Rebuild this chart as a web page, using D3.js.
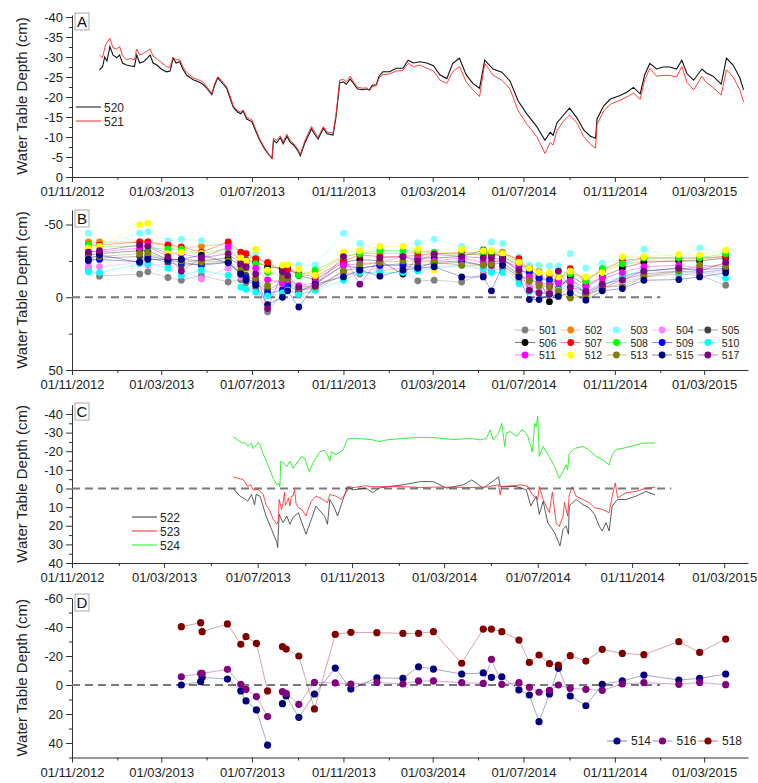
<!DOCTYPE html>
<meta charset="utf-8">
<html>
<script src="https://d3js.org/d3.v7.min.js"></script>
<style>
  body { margin: 0; background: #fff; }
  text { font-family: Arial, "Liberation Sans", sans-serif; }
</style>
<body>
<div id="chart"></div>
<script>
// ---------- tick labels ----------
const xTicks = ["2012-11-01","2013-03-01","2013-07-01","2013-11-01","2014-03-01","2014-07-01","2014-11-01","2015-03-01"];
const xMinor = ["2013-01-01","2013-05-01","2013-09-01","2014-01-01","2014-05-01","2014-09-01","2015-01-01"];

// ---------- panel A : 520, 521 ----------
const a520 = [
 ["2012-12-08",-26.8],["2012-12-12",-27.5],["2012-12-15",-30],["2012-12-18",-29],["2012-12-22",-32.6],["2012-12-26",-30.5],
 ["2012-12-31",-29.8],["2013-01-04",-30.5],["2013-01-08",-28.5],["2013-01-13",-28],["2013-01-18",-27.8],["2013-01-24",-27.6],
 ["2013-01-27",-30.5],["2013-01-31",-28.5],["2013-02-05",-28.8],["2013-02-09",-29.5],["2013-02-14",-30.5],["2013-02-18",-28.5],
 ["2013-02-23",-28],["2013-03-01",-27],["2013-03-08",-26.3],["2013-03-13",-26.5],["2013-03-17",-29.7],["2013-03-21",-28.5],
 ["2013-03-26",-28.8],["2013-03-30",-27],["2013-04-04",-25.5],["2013-04-13",-24.3],["2013-04-20",-23.8],["2013-04-26",-23.2],
 ["2013-05-02",-22],["2013-05-08",-20.6],["2013-05-12",-23],["2013-05-16",-24.8],["2013-05-22",-23.5],["2013-05-28",-22.2],
 ["2013-06-02",-19.5],["2013-06-06",-17.4],["2013-06-12",-16.2],["2013-06-16",-15.8],["2013-06-19",-16.5],["2013-06-24",-14.5],
 ["2013-07-01",-13.8],["2013-07-06",-11.5],["2013-07-12",-9],["2013-07-18",-7],["2013-07-24",-5.5],["2013-07-28",-4.7],
 ["2013-07-30",-9.2],["2013-08-03",-8.5],["2013-08-08",-9.8],["2013-08-12",-8.3],["2013-08-17",-10.2],["2013-08-21",-8.8],
 ["2013-08-26",-8],["2013-09-01",-6.5],["2013-09-04",-5.3],["2013-09-10",-8.5],["2013-09-19",-12],["2013-09-24",-10.5],
 ["2013-09-28",-9.5],["2013-10-05",-12.2],["2013-10-10",-10.8],["2013-10-18",-10.5],["2013-10-22",-15],["2013-10-27",-23.5],
 ["2013-11-01",-23.8],["2013-11-05",-23.2],["2013-11-10",-24.5],["2013-11-14",-23.5],["2013-11-20",-22],["2013-11-27",-21.8],
 ["2013-12-02",-22],["2013-12-06",-21.8],["2013-12-10",-23],["2013-12-15",-23],["2013-12-19",-25.2],["2013-12-24",-26.3],
 ["2014-01-02",-26.3],["2014-01-11",-27.2],["2014-01-20",-27.2],["2014-01-27",-29.2],["2014-02-03",-28.5],["2014-02-12",-28.8],
 ["2014-02-21",-28.5],["2014-03-02",-27.8],["2014-03-11",-25.5],["2014-03-20",-24.6],["2014-03-28",-28.4],["2014-04-06",-29.7],
 ["2014-04-15",-25.6],["2014-04-24",-23.4],["2014-05-03",-22.2],["2014-05-10",-29.2],["2014-05-21",-27],["2014-06-02",-26.2],
 ["2014-06-13",-24],["2014-06-24",-19],["2014-07-05",-15.9],["2014-07-19",-12.6],["2014-07-30",-9.2],["2014-08-06",-11.2],
 ["2014-08-10",-10.4],["2014-08-15",-13.5],["2014-08-24",-15.5],["2014-09-01",-17.2],["2014-09-11",-14.8],["2014-09-20",-11.8],
 ["2014-09-29",-10.2],["2014-10-06",-9.7],["2014-10-08",-14.5],["2014-10-17",-17.8],["2014-10-26",-19.5],["2014-11-08",-20.4],
 ["2014-11-17",-21.2],["2014-11-26",-22.4],["2014-12-05",-20.8],["2014-12-11",-25.5],["2014-12-18",-28.4],["2014-12-27",-27],
 ["2015-01-05",-27.5],["2015-01-14",-27.5],["2015-01-23",-27],["2015-01-30",-29.2],["2015-02-06",-25.8],["2015-02-15",-24.2],
 ["2015-02-26",-27],["2015-03-04",-26],["2015-03-13",-25.2],["2015-03-24",-23.2],["2015-03-31",-29.7],["2015-04-09",-28],
 ["2015-04-18",-24.8],["2015-04-23",-21.8]
];
const a521 = [
 ["2012-12-08",-30.5],["2012-12-12",-29.8],["2012-12-16",-33],["2012-12-22",-34.7],["2012-12-26",-32.3],["2012-12-31",-32],
 ["2013-01-04",-32.6],["2013-01-08",-30.3],["2013-01-13",-29.3],["2013-01-18",-29.6],["2013-01-24",-29.3],["2013-01-27",-32],
 ["2013-01-31",-30.5],["2013-02-05",-30.9],["2013-02-09",-31.4],["2013-02-14",-32],["2013-02-18",-30.2],["2013-02-23",-29.6],
 ["2013-03-01",-28.6],["2013-03-08",-27.6],["2013-03-13",-27.4],["2013-03-17",-30],["2013-03-21",-29.3],["2013-03-26",-29.3],
 ["2013-03-30",-27.6],["2013-04-04",-26.2],["2013-04-13",-24.8],["2013-04-20",-24.3],["2013-04-26",-23.8],["2013-05-02",-22.4],
 ["2013-05-08",-20.9],["2013-05-12",-23.4],["2013-05-16",-25.1],["2013-05-22",-24],["2013-05-28",-22.6],["2013-06-02",-20],
 ["2013-06-06",-17.7],["2013-06-12",-16.6],["2013-06-16",-16.2],["2013-06-19",-16.8],["2013-06-24",-14.9],["2013-07-01",-14.3],
 ["2013-07-06",-11.9],["2013-07-12",-9.3],["2013-07-18",-7.3],["2013-07-24",-5.6],["2013-07-28",-4.5],["2013-07-30",-9.7],
 ["2013-08-03",-9.2],["2013-08-08",-10.3],["2013-08-12",-8.8],["2013-08-17",-10.7],["2013-08-21",-9.3],["2013-08-26",-8.4],
 ["2013-09-01",-6.9],["2013-09-04",-5.6],["2013-09-10",-9],["2013-09-19",-12.7],["2013-09-24",-11],["2013-09-28",-10],
 ["2013-10-05",-12.6],["2013-10-10",-11.2],["2013-10-18",-11],["2013-10-22",-15.6],["2013-10-27",-24.2],["2013-11-01",-24.4],
 ["2013-11-05",-23.8],["2013-11-10",-25.2],["2013-11-14",-24],["2013-11-20",-22.4],["2013-11-27",-22.2],["2013-12-02",-22.3],
 ["2013-12-06",-21.6],["2013-12-10",-22.6],["2013-12-15",-22.8],["2013-12-19",-24.8],["2013-12-24",-25.6],["2014-01-02",-25.8],
 ["2014-01-11",-26.5],["2014-01-20",-26.6],["2014-01-27",-28.4],["2014-02-03",-27.6],["2014-02-12",-28],["2014-02-21",-27.2],
 ["2014-03-02",-26.5],["2014-03-11",-24.2],["2014-03-20",-23.4],["2014-03-28",-26.4],["2014-04-06",-27.6],["2014-04-15",-23.8],
 ["2014-04-24",-21.8],["2014-05-03",-20.1],["2014-05-10",-28.4],["2014-05-21",-25.5],["2014-06-02",-24.2],["2014-06-13",-22],
 ["2014-06-24",-16.5],["2014-07-05",-13.4],["2014-07-19",-10.1],["2014-07-30",-5.9],["2014-08-06",-8.6],["2014-08-10",-8],
 ["2014-08-15",-11.6],["2014-08-24",-14],["2014-09-01",-15.5],["2014-09-11",-13.5],["2014-09-20",-10.1],["2014-09-29",-8.2],
 ["2014-10-06",-7.2],["2014-10-08",-13.2],["2014-10-17",-16.5],["2014-10-26",-18.2],["2014-11-08",-19.2],["2014-11-17",-20],
 ["2014-11-26",-21],["2014-12-05",-19.4],["2014-12-11",-24.2],["2014-12-18",-27.2],["2014-12-27",-25.2],["2015-01-05",-25.4],
 ["2015-01-14",-25.4],["2015-01-23",-25],["2015-01-30",-27.6],["2015-02-06",-23.6],["2015-02-15",-21.8],["2015-02-26",-25.2],
 ["2015-03-04",-23.6],["2015-03-13",-22.4],["2015-03-24",-20.5],["2015-03-31",-26.8],["2015-04-09",-25],["2015-04-18",-21.8],
 ["2015-04-23",-18.8]
];

// ---------- panel B : manual wells ----------
const bDates = ["2012-11-23","2012-12-08","2013-01-31","2013-02-11","2013-03-10","2013-03-28","2013-04-24","2013-05-30",
 "2013-06-16","2013-06-23","2013-07-06","2013-07-22","2013-08-11","2013-08-18","2013-09-02","2013-09-24","2013-11-01",
 "2013-11-23","2013-12-20","2014-01-20","2014-02-09","2014-03-03","2014-04-09","2014-05-08","2014-05-19","2014-06-03",
 "2014-06-25","2014-07-09","2014-07-22","2014-08-05","2014-08-17","2014-09-02","2014-09-23","2014-10-15","2014-11-11",
 "2014-12-10","2015-01-26","2015-02-23","2015-03-30"];
const w501 = [-20,-14.5,-16,-17.5,-13.6,-11.7,-15,-10.5,-12,-10,-6,10,-3,-5,-2,-5,-16,-16,-18,-20,-11.3,-11.7,-10.5,-16,-18,-20,-12,-6,-3,-4,-2,-6,-1,-6,-9,-14,-16,-15,-8.3];
const w502 = [-38,-38,-38,-38,-35,-34,-35,-37,-29,-28,-27,-23,-18,-20,-17,-16,-28,-30,-30,-30,-31,-30,-31,-30,-30,-31,-25,-20,-18,-15,-13,-17,-13,-18,-22,-25,-25,-26,-28];
const w503 = [-44,-36,-44,-45,-39,-40,-39,-35,-28,-27,-30,-20,-20,-20,-22,-22,-44,-37,-33,-30,-37.5,-40,-35,-33,-38,-37,-28,-22,-22,-21.5,-21.5,-30,-20,-23.5,-26,-33,-27,-34,-30];
const w504 = [-21,-21,-24,-22,-23,-19,-12.6,-20,-14,-12,-10,-4,-8,-9,-5,-7,-16,-18,-20,-20,-19,-21,-22,-19,-20,-22,-13,-8,-6,-5,-4,-8,0,-5,-10,-15,-17,-16,-18];
const w505 = [-25,-27,-28,-27,-24,-22,-23,-24,-17,-15,-12,-5,-10,-11,-5,-6,-18,-20,-22,-23,-22,-23,-24,-22,-22,-24,-15,-12,-10,-9,-6,-14,-2,-6,-12,-16,-18,-17,-19];
const w506 = [-29,-30,-32,-32,-26,-26,-25,-27,-22,-25.5,-24.3,-21,-20,-20,-15,-12,-24,-26,-25,-16,-27,-27,-28,-32.4,-30,-28,-22,-20,-13,3,-5,-15,-8,-14,-20,-24,-25,-25,-27];
const w507 = [-36,-36,-38,-38,-36,-34.7,-31,-38,-31,-30,-26.6,-24,-18,-19,-16,-14,-25,-29,-28,-28,-29,-30,-30,-29,-29,-30,-26.6,-18,-15,-12,-12,-19.6,-11,-19,-25,-27,-27,-27,-28];
const w508 = [-36,-35,-35,-34,-33,-33,-30,-33,-25,-24,-23,-17,-15,-14,-15,-18.6,-28,-30,-32,-32,-32,-31,-29,-30,-31,-30,-24,-16,-12,-11.7,-18,-16,-11,-19.6,-23,-27,-27,-27,-30];
const w509 = [-25.5,-26,-24.4,-28.5,-25.5,-24,-22,-24,-16,-13,-10,-2.5,-5,-8,-4,-9,-22,-20,-22,-22,-20,-24,-25,-22,-24,-26,-18,-17,-13,-12,-10,-10,-3,-8,-14,-18,-20,-19,-20];
const w510 = [-17.5,-17,-23,-23,-20,-15,-18.6,-15,-7,-5.5,-3.5,-1,-3,-5,-2,-4.8,-11.7,-17,-17,-17,-18,-20,-22,-20,-17,-17,-9.4,-4,-3,-2,-5,-9,-5,-10,-14,-19,-17,-18,-13];
const w511 = [-32,-31,-34,-36,-30,-30,-27,-34.7,-24,-22,-20,-12,-10,-12,-8,-10,-22,-23,-24,-28,-26,-25,-27,-24,-24,-25,-21,-14,-9,-8,-10,-11,-7,-13,-17,-21,-22,-20,-23];
const w512 = [-34,-35,-50,-51,-30,-31,-30,-30,-27,-25,-33,-18.6,-22,-22.5,-19.5,-15,-31,-32,-35,-35,-33,-18.6,-33,-32,-32,-30,-24,-20,-17,-17,-14,-18,-14,-17,-27.8,-28,-29.4,-29,-32.4];
const w513 = [-28,-28,-30,-30,-26,-25,-24,-25,-18.6,-20,-13,-8,-13,-13,-6,-7,-18,-22,-24,-25,-25,-24,-22,-22,-23,-24,-16,-11,-8,-7,-4,0.5,-1,-8,-7,-14,-18,-22,-21];
const w515 = [-26,-29,-24,-26,-26,-26,-29,-23.7,-16,-11.7,-8.3,5,0,-4.4,6.7,-9,-14,-18.6,-14.5,-18.6,-20,-21,-14,-14,-4.4,-22,-14,1.6,1.6,-2,-0.6,-3,2,-4.4,-6,-11.7,-12.2,-14,-16.8];
const w517 = [-31,-32,-36,-35,-28,-18,-27,-30,-23,-21,-16,7.8,-17.5,-15,-7,-8,-28,-9,-27,-28,-25,-29.6,-28,-27,-27,-26,-19,-4.8,-3,-2.5,-18,-7,-4,-9,-12,-18,-20,-18,-24];
const bNames = ["501","502","503","504","505","506","507","508","509","510","511","512","513","515","517"];
const bValues = [w501,w502,w503,w504,w505,w506,w507,w508,w509,w510,w511,w512,w513,w515,w517];
const bColors = ["#808080","#ff8000","#80ffff","#ff80ff","#404040","#000000","#ff0000","#00ff00","#0000ff","#00ffff","#ff00ff","#ffff00","#808000","#000080","#800080"];

// ---------- panel C : 522, 523, 524 ----------
const c522 = [
 ["2013-05-30",0],["2013-06-08",4.1],["2013-06-14",5.5],["2013-06-18",6.8],["2013-06-23",3.2],["2013-06-27",8.7],["2013-06-29",3.2],
 ["2013-07-04",4.1],["2013-07-12",14.8],["2013-07-19",21.9],["2013-07-26",29],["2013-07-27",31.7],["2013-07-29",13.9],["2013-08-03",18.3],
 ["2013-08-08",14.8],["2013-08-12",19.2],["2013-08-16",15.6],["2013-08-23",13],["2013-09-02",24.5],["2013-09-09",16.5],["2013-09-15",9.4],
 ["2013-09-26",14.8],["2013-09-30",19.2],["2013-10-03",5.9],["2013-10-09",10.3],["2013-10-13",14.8],["2013-10-18",8.7],["2013-10-26",-1.1],
 ["2013-11-02",0.7],["2013-11-19",-0.2],["2013-11-28",2.3],["2013-12-06",-0.2],["2013-12-19",-1.1],["2014-01-07",-2],["2014-01-29",-3.7],
 ["2014-02-15",-3.7],["2014-03-04",-0.2],["2014-03-26",-2],["2014-04-06",-4.6],["2014-04-21",-0.2],["2014-05-11",-6.2],["2014-05-13",-1.1],
 ["2014-06-03",-1.1],["2014-06-16",0.7],["2014-06-22",9.4],["2014-06-29",4.1],["2014-07-03",13.9],["2014-07-08",6.8],["2014-07-14",18.3],
 ["2014-07-23",23.7],["2014-07-30",30.8],["2014-08-03",21.9],["2014-08-07",20.1],["2014-08-10",24.5],["2014-08-11",9.4],["2014-08-20",5.9],
 ["2014-08-29",8.7],["2014-09-06",10.3],["2014-09-13",13.9],["2014-09-19",20.1],["2014-09-23",22.8],["2014-09-28",18.3],["2014-10-02",22.8],
 ["2014-10-06",9.4],["2014-10-13",5.9],["2014-10-24",5.9],["2014-11-06",4.1],["2014-11-19",1.6],["2014-12-01",3.4]
];
const c523 = [
 ["2013-05-30",-6.2],["2013-06-05",-5.5],["2013-06-12",-4.8],["2013-06-18",-1.1],["2013-06-22",-2],["2013-06-25",0.7],["2013-07-02",0.5],
 ["2013-07-04",1.6],["2013-07-08",3],["2013-07-12",8.7],["2013-07-17",12],["2013-07-21",16.5],["2013-07-26",19.2],["2013-07-28",17],
 ["2013-07-29",5.9],["2013-08-01",11.2],["2013-08-03",8],["2013-08-05",2],["2013-08-06",9],["2013-08-08",7.6],["2013-08-10",5],
 ["2013-08-12",9.4],["2013-08-14",4],["2013-08-16",4.1],["2013-08-18",0.5],["2013-08-20",8],["2013-08-23",10.3],["2013-08-27",11],
 ["2013-09-02",14.8],["2013-09-04",12],["2013-09-09",6.8],["2013-09-15",4.1],["2013-09-20",5],["2013-09-24",5.9],["2013-09-30",7.6],
 ["2013-10-03",3.2],["2013-10-11",4.1],["2013-10-18",5.9],["2013-10-24",2.3],["2013-10-29",-1.1],["2013-11-02",-0.5],["2013-11-19",-1.5],
 ["2013-11-28",-1],["2013-12-16",-1],["2014-01-07",-1],["2014-01-29",-0.5],["2014-02-19",-0.8],["2014-03-13",-0.7],["2014-04-04",-0.5],
 ["2014-04-25",-0.8],["2014-05-11",-2],["2014-05-13",3.5],["2014-05-15",-1],["2014-06-10",-2],["2014-06-18",-1.1],["2014-06-24",3.4],
 ["2014-07-01",5.9],["2014-07-03",-1],["2014-07-08",5.9],["2014-07-16",13],["2014-07-20",2],["2014-07-25",18.5],["2014-07-29",20.3],
 ["2014-08-03",14.8],["2014-08-05",7.6],["2014-08-09",14.8],["2014-08-11",3.4],["2014-08-15",-1],["2014-08-20",4.1],["2014-08-29",5.9],
 ["2014-09-06",7.6],["2014-09-13",10.3],["2014-09-23",11.2],["2014-10-02",13],["2014-10-06",4.1],["2014-10-10",-3],["2014-10-13",5],
 ["2014-10-24",2.3],["2014-11-06",1.6],["2014-11-19",-0.2],["2014-12-01",-0.7]
];
const c524 = [
 ["2013-05-30",-27.9],["2013-06-08",-25.2],["2013-06-12",-24.4],["2013-06-14",-24.8],["2013-06-18",-22.6],["2013-06-23",-24.4],
 ["2013-06-25",-21.5],["2013-06-27",-22.3],["2013-07-02",-24.8],["2013-07-04",-23.5],["2013-07-08",-18.8],["2013-07-12",-15],
 ["2013-07-17",-10],["2013-07-21",-5.5],["2013-07-26",-1.9],["2013-07-29",-2.8],["2013-07-30",-1.1],["2013-07-31",-14.6],
 ["2013-08-03",-13.7],["2013-08-08",-11.8],["2013-08-12",-14.6],["2013-08-16",-10.9],["2013-08-21",-13.7],["2013-08-27",-17.2],
 ["2013-08-31",-16.4],["2013-09-06",-9.1],["2013-09-11",-13.7],["2013-09-20",-19.7],["2013-09-26",-20.6],["2013-09-30",-18.1],
 ["2013-10-03",-14.6],["2013-10-05",-19.7],["2013-10-11",-18.1],["2013-10-20",-20.6],["2013-10-26",-26.5],["2013-11-02",-27],
 ["2013-11-19",-26.5],["2013-11-28",-26.1],["2013-12-06",-25.2],["2013-12-16",-26.1],["2014-01-07",-26.9],["2014-01-29",-27.5],
 ["2014-02-19",-27.2],["2014-03-13",-26.3],["2014-04-04",-26.9],["2014-04-17",-26.1],["2014-04-25",-26.9],["2014-04-30",-31.5],
 ["2014-05-04",-26.1],["2014-05-11",-29.7],["2014-05-15",-35],["2014-05-19",-22.6],["2014-05-21",-29.7],["2014-05-26",-30.6],
 ["2014-06-04",-28],["2014-06-10",-31.5],["2014-06-14",-30.6],["2014-06-18",-28],["2014-06-24",-19.7],["2014-06-27",-35],
 ["2014-06-29",-33.2],["2014-07-01",-38.9],["2014-07-03",-17.2],["2014-07-08",-22.6],["2014-07-16",-17.2],["2014-07-23",-11.8],
 ["2014-07-29",-5.5],["2014-08-03",-9.1],["2014-08-07",-12.7],["2014-08-09",-10],["2014-08-11",-18.8],["2014-08-18",-21.5],
 ["2014-08-29",-22.6],["2014-09-06",-20.6],["2014-09-15",-17.2],["2014-09-23",-15.5],["2014-10-02",-12.7],["2014-10-06",-18.1],
 ["2014-10-11",-21],["2014-10-19",-21.5],["2014-11-02",-22.9],["2014-11-15",-24.4],["2014-12-01",-24.4]
];

// ---------- panel D : 514, 516, 518 ----------
const dDates = ["2013-03-28","2013-04-23","2013-04-25","2013-05-29","2013-06-16","2013-06-23","2013-07-07","2013-07-22",
 "2013-08-11","2013-08-16","2013-09-02","2013-09-23","2013-10-21","2013-11-11","2013-12-16","2014-01-20","2014-02-10",
 "2014-03-02","2014-04-09","2014-05-08","2014-05-19","2014-06-02","2014-06-25","2014-07-09","2014-07-22","2014-08-05",
 "2014-08-17","2014-09-02","2014-09-23","2014-10-15","2014-11-11","2014-12-10","2015-01-26","2015-02-23","2015-03-30"];
const d514 = [0,-2.3,-5.3,-4.1,4.1,11,17.2,41.4,12.9,7.6,22.3,6.2,-11.7,2.8,-5,-4.6,-12.6,-11,-7.6,-8.3,-5.3,-5.7,3.4,6.9,25.3,6.2,-11.5,7.6,14.3,-0.5,-2.8,-6.9,-3.4,-4.6,-7.6];
const d516 = [-5.7,-8,-8,-10.8,-0.5,3,8,21.8,4.6,5.7,13.3,-1.8,-1.4,-0.7,-1.8,-0.7,-2.8,-2.8,-1.6,-1.1,-17.7,-0.5,-1.6,1.6,5,3.7,0,2.3,3,3.7,-0.7,-1.6,-0.5,-1.8,-0.2];
const d518 = [-40.2,-43,-36.8,-42.1,-28.1,-33.3,-28.7,4.1,-26.4,-24.8,-20,16.5,-34.9,-36.3,-36.1,-35.6,-35.6,-36.8,-15,-38.6,-38.6,-36.8,-31,-15.6,-20.7,-14.7,-13.8,-20.2,-16.5,-24.6,-21.8,-20.9,-29.9,-22.5,-31.7];
const dBreakAfter = "2013-07-22"; // no line drawn across the August 2013 gap
const dNames = ["514","516","518"];
const dValues = [d514, d516, d518];
const dColors = ["#000080","#800080","#800000"];

// ---------- drawing ----------
const W = 758, H = 783;
const left = 72, right = 748;
const parse = d3.timeParse("%Y-%m-%d");
const fmt = d3.timeFormat("%d/%m/%Y");

const svg = d3.select("#chart").append("svg").attr("width", W).attr("height", H);

function frame(x, y, bottom, yTicks, yMinor, label, boxY) {
  const g = svg.append("g");
  g.append("g").attr("transform", `translate(${left},0)`)
    .call(d3.axisLeft(y).tickValues(yTicks).tickSize(6).tickSizeOuter(0).tickPadding(3).tickFormat(d => String(d)))
    .call(s => s.selectAll("text").attr("font-size", 13).attr("fill", "#222"));
  g.append("g").attr("transform", `translate(${left},0)`)
    .call(d3.axisLeft(y).tickValues(yMinor).tickSize(3).tickFormat(""))
    .call(s => s.select(".domain").remove());
  g.append("g").attr("transform", `translate(0,${bottom})`)
    .call(d3.axisBottom(x).tickValues(xTicks.map(parse)).tickFormat(fmt).tickSize(5).tickSizeOuter(0).tickPadding(5))
    .call(s => s.selectAll("text").attr("font-size", 13).attr("fill", "#222"));
  g.append("g").attr("transform", `translate(0,${bottom})`)
    .call(d3.axisBottom(x).tickValues(xMinor.map(parse)).tickSize(3).tickFormat(""))
    .call(s => s.select(".domain").remove());
  g.selectAll("path.domain, .tick line").attr("stroke", "#333");
  g.selectAll("text").attr("font-family", "Arial, 'Liberation Sans', sans-serif");

  const yr = y.range();
  const mid = (yr[0] + yr[1]) / 2;
  g.append("text").attr("transform", `translate(21,${mid}) rotate(-90)`)
    .attr("text-anchor", "middle").attr("dominant-baseline", "central")
    .attr("font-size", 15).attr("fill", "#222").text("Water Table Depth (cm)");

  g.append("rect").attr("x", 75).attr("y", boxY).attr("width", 14).attr("height", 17)
    .attr("fill", "#fff").attr("stroke", "#aaa").attr("stroke-width", 1);
  g.append("text").attr("x", 82).attr("y", boxY + 14).attr("text-anchor", "middle")
    .attr("font-size", 15).attr("fill", "#111").text(label);
  return g;
}

function zeroLine(x, y, endDate) {
  svg.append("line").attr("x1", left).attr("x2", x(parse(endDate)))
    .attr("y1", y(0)).attr("y2", y(0))
    .attr("stroke", "#7a7a7a").attr("stroke-width", 2).attr("stroke-dasharray", "8,5");
}

function lineLegend(items, x0, y0, dy) {
  items.forEach((it, i) => {
    const yy = y0 + i * dy;
    svg.append("line").attr("x1", x0).attr("x2", x0 + 25).attr("y1", yy).attr("y2", yy)
      .attr("stroke", it.color).attr("stroke-width", 1);
    svg.append("text").attr("x", x0 + 28).attr("y", yy + 4.5).attr("font-size", 12).attr("fill", "#222").text(it.name);
  });
}

function symLegend(x0, y0, name, color, r, fs) {
  svg.append("line").attr("x1", x0 - 10).attr("x2", x0 + 10).attr("y1", y0).attr("y2", y0)
    .attr("stroke", color).attr("stroke-opacity", 0.5).attr("stroke-width", 1);
  svg.append("circle").attr("cx", x0).attr("cy", y0).attr("r", r).attr("fill", color);
  svg.append("text").attr("x", x0 + 14).attr("y", y0 + 4).attr("font-size", fs).attr("fill", "#222").text(name);
}

// ----- Panel A -----
const xA = d3.scaleTime().domain([parse("2012-11-01"), parse("2015-04-29")]).range([left, right]);
const yA = d3.scaleLinear().domain([0, -40.5]).range([177, 15]);
frame(xA, yA, 177, d3.range(-40, 1, 5), d3.range(-37.5, 0, 5), "A", 13);
const lineA = d3.line().x(d => xA(parse(d[0]))).y(d => yA(d[1]));
svg.append("path").datum(a520).attr("d", lineA).attr("fill", "none").attr("stroke", "#111").attr("stroke-width", 1.1);
svg.append("path").datum(a521).attr("d", lineA).attr("fill", "none").attr("stroke", "#ff2a2a").attr("stroke-width", 0.9);
lineLegend([{name: "520", color: "#111"}, {name: "521", color: "#ff2a2a"}], 76, 107, 14);

// ----- Panel B -----
const yB = d3.scaleLinear().domain([-60, 50]).range([210, 370]);
frame(xA, yB, 370, [-50, 0, 50], [-25, 25], "B", 210);
zeroLine(xA, yB, "2015-01-01");
const lineB = d3.line().x(d => xA(parse(d.date))).y(d => yB(d.v));
bValues.forEach((vals, k) => {
  const pts = bDates.map((dt, i) => ({date: dt, v: vals[i]}));
  svg.append("path").datum(pts).attr("d", lineB).attr("fill", "none")
    .attr("stroke", bColors[k]).attr("stroke-opacity", 0.45).attr("stroke-width", 0.8);
  svg.append("g").selectAll("circle").data(pts).join("circle")
    .attr("cx", d => xA(parse(d.date))).attr("cy", d => yB(d.v)).attr("r", 3.4).attr("fill", bColors[k]);
});
bNames.forEach((nm, k) => {
  const col = k % 5, row = Math.floor(k / 5);
  symLegend(525 + col * 45.7, 330 + row * 12.5, nm, bColors[k], 3.4, 10.5);
});

// ----- Panel C -----
const xC = d3.scaleTime().domain([parse("2012-11-01"), parse("2015-04-01")]).range([left, right]);
const yC = d3.scaleLinear().domain([-45, 40]).range([404.7, 563]);
frame(xC, yC, 563, d3.range(-40, 41, 10), d3.range(-35, 40, 10), "C", 403);
zeroLine(xC, yC, "2014-12-22");
const lineC = d3.line().x(d => xC(parse(d[0]))).y(d => yC(d[1]));
svg.append("path").datum(c522).attr("d", lineC).attr("fill", "none").attr("stroke", "#333").attr("stroke-width", 0.8);
svg.append("path").datum(c523).attr("d", lineC).attr("fill", "none").attr("stroke", "#ff2020").attr("stroke-width", 0.8);
svg.append("path").datum(c524).attr("d", lineC).attr("fill", "none").attr("stroke", "#22ee22").attr("stroke-width", 0.9);
lineLegend([{name: "522", color: "#333"}, {name: "523", color: "#ff2020"}, {name: "524", color: "#22ee22"}], 132, 517, 14);

// ----- Panel D -----
const yD = d3.scaleLinear().domain([-60, 50]).range([598, 757.5]);
frame(xA, yD, 757.5, d3.range(-60, 41, 20), d3.range(-50, 51, 20), "D", 594);
zeroLine(xA, yD, "2015-01-01");
const breakIdx = dDates.indexOf(dBreakAfter);
const lineD = d3.line().x(d => xA(parse(d.date))).y(d => yD(d.v));
dValues.forEach((vals, k) => {
  const pts = dDates.map((dt, i) => ({date: dt, v: vals[i]}));
  [pts.slice(0, breakIdx + 1), pts.slice(breakIdx + 1)].forEach(seg => {
    svg.append("path").datum(seg).attr("d", lineD).attr("fill", "none")
      .attr("stroke", dColors[k]).attr("stroke-opacity", 0.35).attr("stroke-width", 1);
  });
  svg.append("g").selectAll("circle").data(pts).join("circle")
    .attr("cx", d => xA(parse(d.date))).attr("cy", d => yD(d.v)).attr("r", 3.6).attr("fill", dColors[k]);
});
dNames.forEach((nm, k) => symLegend(617 + k * 45.5, 741, nm, dColors[k], 3.6, 12));
</script>
</body>
</html>
